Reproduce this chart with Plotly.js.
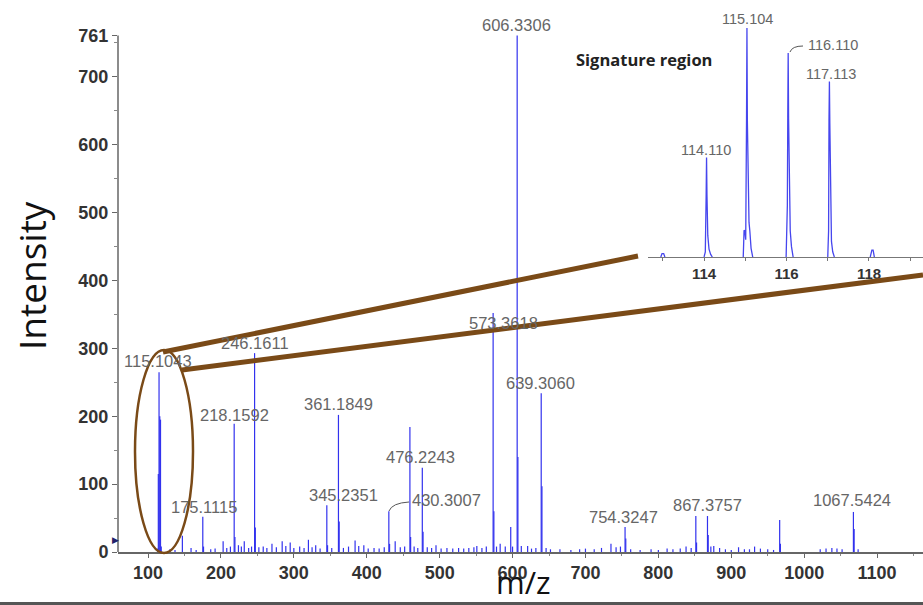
<!DOCTYPE html>
<html>
<head>
<meta charset="utf-8">
<script src="https://cdn.plot.ly/plotly-3.0.1.min.js"></script>
<style>html,body{margin:0;padding:0;background:#fff;}#chart{width:923px;height:605px;}</style>
</head>
<body>
<div id="chart"></div>
<script>
// ---------- DATA ----------
// main MS/MS spectrum: stick peaks (m/z, intensity)
const mainMz = [113.1,114.11,115.10,116.11,117.11,118.1,130,137,147.1,159,166,175.11,176.1,186,192,203,208,213,
  218.16,219.16,224,228,232,238,242,246.16,247.16,252,258,263,270,276,284,289,295,300,308,314,320,325,330,336,
  345.24,346.24,352,361.18,362.19,368,375,384,389,396,402,410,417,424,430.30,431.3,439,446,452,459.2,460.2,465,470,
  476.22,477.23,483,489,495,502,510,518,526,533,540,547,551,558,564,573.36,574.37,578,583,590,597.5,600,
  606.33,607.33,612,620.7,626,632,639.31,640.31,646,652,665,680,692,700,712,722,735,742,748,754.32,755.3,762,775,
  790,800,812,820,830,838,845,851.4,852.4,867.38,868.38,872,876,884,892,900,910,918,925,932,940,950,958,966.4,967.4,
  1022,1030,1038,1045,1052,1067.54,1068.54,1074];
const mainInt = [5,115,265,200,195,8,4,3,24,6,3,52,8,4,5,16,6,8,
  189,22,10,8,16,6,8,293,36,7,8,6,12,7,16,9,14,6,8,6,18,7,10,5,
  69,10,6,202,45,6,8,17,9,10,5,6,5,7,60,12,16,7,8,184,22,8,6,
  124,30,7,6,10,5,6,5,6,5,6,7,9,6,8,352,60,8,12,8,37,8,
  761,140,9,9,5,6,234,97,6,4,4,3,4,5,4,6,12,7,8,37,20,4,3,
  4,3,5,4,5,8,6,53,14,53,25,8,9,6,4,3,7,4,4,8,5,4,3,47,12,
  4,5,6,5,4,59,34,4];
// labelled peaks
const peakLabels = ["606.3306","573.3618","246.1611","115.1043","218.1592","361.1849","639.3060",
  "476.2243","345.2351","430.3007","175.1115","754.3247","867.3757","1067.5424"];
// inset: signature (reporter ion) region profile, null separates peaks
const insetMz = [112.95,112.98,113.02,113.05,null,
  114.0,114.03,114.05,114.06,114.07,114.09,114.12,114.16,114.2,null,
  114.95,114.97,114.99,115.01,115.03,115.04,115.05,115.07,115.09,115.11,115.14,115.18,null,
  115.99,116.01,116.02,116.03,116.04,116.05,116.07,116.09,116.12,116.16,null,
  117.0,117.02,117.03,117.04,117.05,117.07,117.09,117.12,117.16,null,
  118.03,118.07,118.10,118.13];
const insetInt = [0,4,4,0,null,
  0,6,70,115,72,25,9,3,0,null,
  0,31,30,20,160,265,158,66,40,30,10,0,null,
  0,50,60,162,236,160,54,30,12,0,null,
  0,30,158,203,155,40,18,6,0,null,
  0,8,8,0];
const insetLabels = ["115.104","116.110","117.113","114.110"];
const xTicks = [100,200,300,400,500,600,700,800,900,1000,1100];
const yTicks = [0,100,200,300,400,500,600,700,761];
const insetTicks = [114,116,118];

// ---------- BUILD ----------
const L = 118, W = 805, B = 552, H = 544;
const pX = px => (px - L) / W;
const pY = py => (B - py) / H;

const sx = [], sy = [];
mainMz.forEach((m, i) => { sx.push(m, m, null); sy.push(0, mainInt[i], null); });

const blue = '#3232ee';
const traces = [
  {type:'scatter', mode:'lines', x:sx, y:sy, line:{color:blue, width:1.2}, hoverinfo:'skip', showlegend:false},
  {type:'scatter', mode:'lines', x:insetMz, y:insetInt, xaxis:'x2', yaxis:'y2', connectgaps:false,
   line:{color:'#4646ee', width:1.3}, hoverinfo:'skip', showlegend:false}
];

const tickFont = {family:'Liberation Sans, Arial, sans-serif', size:18, color:'#333', weight:'bold'};
const lblFont = {family:'Liberation Sans, Arial, sans-serif', size:16.5, color:'#666'};
const insFont = {family:'Liberation Sans, Arial, sans-serif', size:14.5, color:'#666'};

const mainLabelPos = [[516,25],[503,323],[255,343],[158,361],[234,415],[338,404],[540,383],
  [420,457],[343,495],[446,500],[204,507],[623,517],[707,505],[852,500]];
const insetLabelPos = [[747,19],[833,45],[831,74],[706,150]];

const annotations = [];
peakLabels.forEach((t, i) => annotations.push({text:t, xref:'paper', yref:'paper',
  x:pX(mainLabelPos[i][0]), y:pY(mainLabelPos[i][1]), xanchor:'center', yanchor:'middle',
  showarrow:false, font:lblFont}));
insetLabels.forEach((t, i) => annotations.push({text:t, xref:'paper', yref:'paper',
  x:pX(insetLabelPos[i][0]), y:pY(insetLabelPos[i][1]), xanchor:'center', yanchor:'middle',
  showarrow:false, font:insFont}));
annotations.push({text:'<b>Signature region</b>', xref:'paper', yref:'paper', x:pX(644), y:pY(59),
  xanchor:'center', yanchor:'middle', showarrow:false,
  font:{family:'Open Sans, sans-serif', size:16.5, color:'#222'}});
annotations.push({text:'m/z', xref:'paper', yref:'paper', x:pX(523), y:pY(605),
  xanchor:'center', yanchor:'bottom', showarrow:false,
  font:{family:'Open Sans, sans-serif', size:31, color:'#111'}});
annotations.push({text:'Intensity', xref:'paper', yref:'paper', x:pX(31), y:pY(276), textangle:-90,
  xanchor:'center', yanchor:'middle', showarrow:false,
  font:{family:'Open Sans, sans-serif', size:37, color:'#111'}});
annotations.push({text:'\u25B6', xref:'paper', yref:'paper', x:pX(115), y:pY(540),
  xanchor:'center', yanchor:'middle', showarrow:false,
  font:{family:'DejaVu Sans, sans-serif', size:9, color:'#22226a'}});

const brown = '#7a4a17';
const shapes = [
  // y axis line up to 761
  {type:'line', xref:'paper', yref:'y', x0:0, x1:0, y0:0, y1:761, line:{color:'#666', width:1.5}},
  // ellipse around reporter region
  {type:'circle', xref:'paper', yref:'paper', x0:pX(135), x1:pX(193), y0:pY(553), y1:pY(350),
   line:{color:brown, width:2.5}},
  // zoom connector lines
  {type:'line', xref:'paper', yref:'paper', x0:pX(163), y0:pY(352), x1:pX(638), y1:pY(256),
   line:{color:brown, width:5}},
  {type:'line', xref:'paper', yref:'paper', x0:pX(182), y0:pY(370), x1:pX(923), y1:pY(275),
   line:{color:brown, width:5}},
  // leader lines
  {type:'path', xref:'paper', yref:'paper',
   path:`M ${pX(389)} ${pY(511)} Q ${pX(392)} ${pY(503)} ${pX(409)} ${pY(502)}`, line:{color:'#555', width:1}},
  {type:'path', xref:'paper', yref:'paper',
   path:`M ${pX(790)} ${pY(52)} Q ${pX(792)} ${pY(46)} ${pX(803)} ${pY(46)}`, line:{color:'#555', width:1}},
  // bottom frame line
  {type:'line', xref:'paper', yref:'paper', x0:pX(0), x1:pX(923), y0:pY(603.5), y1:pY(603.5),
   line:{color:'#555', width:3}}
];

const layout = {
  width:923, height:605,
  margin:{l:L, r:0, t:8, b:605-B},
  paper_bgcolor:'#fff', plot_bgcolor:'rgba(0,0,0,0)',
  showlegend:false,
  xaxis:{range:[58.8,1163], domain:[0,1], tickmode:'array', tickvals:xTicks,
    showline:true, linecolor:'#666', linewidth:1.5, ticks:'outside', ticklen:4, tickcolor:'#666',
    minor:{ticks:'outside', ticklen:2, tickcolor:'#888', tickmode:'array', tickvals:[50,150,250,350,450,550,650,750,850,950,1050,1150]},
    tickfont:tickFont, showgrid:false, zeroline:false, fixedrange:true},
  yaxis:{range:[0,801.5], tickmode:'array', tickvals:yTicks, showline:false,
    ticks:'outside', ticklen:5, tickcolor:'#666',
    minor:{ticks:'outside', ticklen:3, tickcolor:'#888', tickmode:'array', tickvals:[50,150,250,350,450,550,650,750]},
    tickfont:tickFont, showgrid:false, zeroline:false, fixedrange:true},
  xaxis2:{anchor:'y2', domain:[pX(648),1], range:[112.64,119.31], tickmode:'array', tickvals:insetTicks,
    showline:true, linecolor:'#777', linewidth:1.3, ticks:'outside', ticklen:3, tickcolor:'#777',
    minor:{ticks:'outside', ticklen:3, tickcolor:'#777', tickmode:'array', tickvals:[113,115,117,119]},
    tickfont:{family:'Liberation Sans, Arial, sans-serif', size:15, color:'#333', weight:'bold'},
    showgrid:false, zeroline:false, fixedrange:true},
  yaxis2:{anchor:'x2', domain:[pY(257),1], range:[0,288], visible:false, fixedrange:true},
  annotations:annotations,
  shapes:shapes
};

Plotly.newPlot('chart', traces, layout, {displayModeBar:false, staticPlot:true});
</script>
</body>
</html>
